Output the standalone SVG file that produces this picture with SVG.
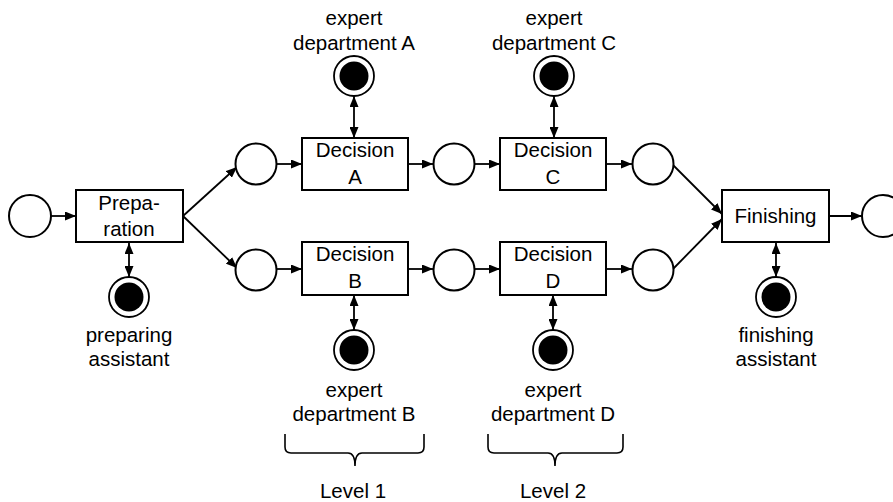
<svg xmlns="http://www.w3.org/2000/svg" width="893" height="502" viewBox="0 0 893 502">
<style>
text{font-family:"Liberation Sans",Arial,sans-serif;font-size:20.5px;fill:#000;text-anchor:middle}
.box{fill:#fff;stroke:#000;stroke-width:2}
.place{fill:#fff;stroke:#000;stroke-width:2}
.res{fill:#fff;stroke:#000;stroke-width:1.8}
.tok{fill:#000}
.edge{fill:none;stroke:#000;stroke-width:1.8}
.brace{fill:none;stroke:#000;stroke-width:1.6}
</style>
<defs>
<marker id="ah" viewBox="0 0 11 9" refX="11" refY="4.5" markerWidth="11" markerHeight="9" markerUnits="userSpaceOnUse" orient="auto-start-reverse">
<path d="M0,0 L11,4.5 L0,9 z" fill="#000"/>
</marker>
</defs>
<g id="connectors">
<line class="edge" x1="51" y1="216" x2="76" y2="216" marker-end="url(#ah)"/>
<line class="edge" x1="183" y1="216" x2="237" y2="167" marker-end="url(#ah)"/>
<line class="edge" x1="183" y1="216" x2="237" y2="268" marker-end="url(#ah)"/>
<line class="edge" x1="277" y1="164" x2="302" y2="164" marker-end="url(#ah)"/>
<line class="edge" x1="277" y1="269" x2="302" y2="269" marker-end="url(#ah)"/>
<line class="edge" x1="408" y1="164" x2="433" y2="164" marker-end="url(#ah)"/>
<line class="edge" x1="408" y1="269" x2="433" y2="269" marker-end="url(#ah)"/>
<line class="edge" x1="475" y1="164" x2="500" y2="164" marker-end="url(#ah)"/>
<line class="edge" x1="475" y1="269" x2="500" y2="269" marker-end="url(#ah)"/>
<line class="edge" x1="606" y1="164" x2="632" y2="164" marker-end="url(#ah)"/>
<line class="edge" x1="606" y1="269" x2="632" y2="269" marker-end="url(#ah)"/>
<line class="edge" x1="673" y1="165" x2="722" y2="214" marker-end="url(#ah)"/>
<line class="edge" x1="673" y1="269" x2="722" y2="219" marker-end="url(#ah)"/>
<line class="edge" x1="829" y1="216" x2="862" y2="216" marker-end="url(#ah)"/>
<line class="edge" x1="129" y1="243" x2="129" y2="277" marker-start="url(#ah)" marker-end="url(#ah)"/>
<line class="edge" x1="354" y1="96" x2="354" y2="138" marker-start="url(#ah)" marker-end="url(#ah)"/>
<line class="edge" x1="554" y1="96" x2="554" y2="138" marker-start="url(#ah)" marker-end="url(#ah)"/>
<line class="edge" x1="354" y1="295" x2="354" y2="330" marker-start="url(#ah)" marker-end="url(#ah)"/>
<line class="edge" x1="553" y1="295" x2="553" y2="330" marker-start="url(#ah)" marker-end="url(#ah)"/>
<line class="edge" x1="776" y1="243" x2="776" y2="277" marker-start="url(#ah)" marker-end="url(#ah)"/>
</g>
<g id="start"><circle class="place" cx="30" cy="216" r="21"/></g>
<g id="preparation"><rect class="box" x="76" y="190" width="107" height="52"/><text x="129" y="210">Prepa-</text><text x="129" y="236">ration</text></g>
<g id="p1"><circle class="place" cx="256" cy="164" r="20.5"/></g>
<g id="p2"><circle class="place" cx="256" cy="270" r="20.5"/></g>
<g id="decisionA"><rect class="box" x="302" y="138" width="106" height="52"/><text x="355" y="157">Decision</text><text x="355" y="184">A</text></g>
<g id="decisionB"><rect class="box" x="302" y="242" width="106" height="53"/><text x="355" y="261">Decision</text><text x="355" y="288">B</text></g>
<g id="p3"><circle class="place" cx="454" cy="164" r="20.5"/></g>
<g id="p4"><circle class="place" cx="454" cy="270" r="20.5"/></g>
<g id="decisionC"><rect class="box" x="500" y="138" width="106" height="52"/><text x="553" y="157">Decision</text><text x="553" y="184">C</text></g>
<g id="decisionD"><rect class="box" x="500" y="242" width="106" height="53"/><text x="553" y="261">Decision</text><text x="553" y="288">D</text></g>
<g id="p5"><circle class="place" cx="653" cy="164" r="20.5"/></g>
<g id="p6"><circle class="place" cx="653" cy="270" r="20.5"/></g>
<g id="finishing"><rect class="box" x="722" y="190" width="107" height="52"/><text x="775.5" y="223">Finishing</text></g>
<g id="end"><circle class="place" cx="883" cy="216" r="21"/></g>
<g id="resPrep"><circle class="res" cx="129" cy="297" r="20"/><circle class="tok" cx="129" cy="297" r="14.5"/><text x="129" y="342">preparing</text><text x="129" y="366">assistant</text></g>
<g id="resA"><circle class="res" cx="354" cy="76" r="20"/><circle class="tok" cx="354" cy="76" r="14.5"/><text x="354" y="25">expert</text><text x="354" y="50">department A</text></g>
<g id="resC"><circle class="res" cx="554" cy="76" r="20"/><circle class="tok" cx="554" cy="76" r="14.5"/><text x="554" y="25">expert</text><text x="554" y="50">department C</text></g>
<g id="resB"><circle class="res" cx="354" cy="350" r="20"/><circle class="tok" cx="354" cy="350" r="14.5"/><text x="354" y="397">expert</text><text x="354" y="421">department B</text></g>
<g id="resD"><circle class="res" cx="553" cy="350" r="20"/><circle class="tok" cx="553" cy="350" r="14.5"/><text x="553" y="397">expert</text><text x="553" y="421">department D</text></g>
<g id="resFin"><circle class="res" cx="776" cy="297" r="20"/><circle class="tok" cx="776" cy="297" r="14.5"/><text x="776" y="342">finishing</text><text x="776" y="366">assistant</text></g>
<g id="level1"><path class="brace" d="M285,434 V447 Q285,453 291,453 H348 Q355,453 355,466 Q355,453 362,453 H418 Q424,453 424,447 V434"/><text x="353" y="498">Level 1</text></g>
<g id="level2"><path class="brace" d="M488,434 V447 Q488,453 494,453 H548 Q555,453 555,466 Q555,453 562,453 H617 Q623,453 623,447 V434"/><text x="553" y="498">Level 2</text></g>
</svg>
